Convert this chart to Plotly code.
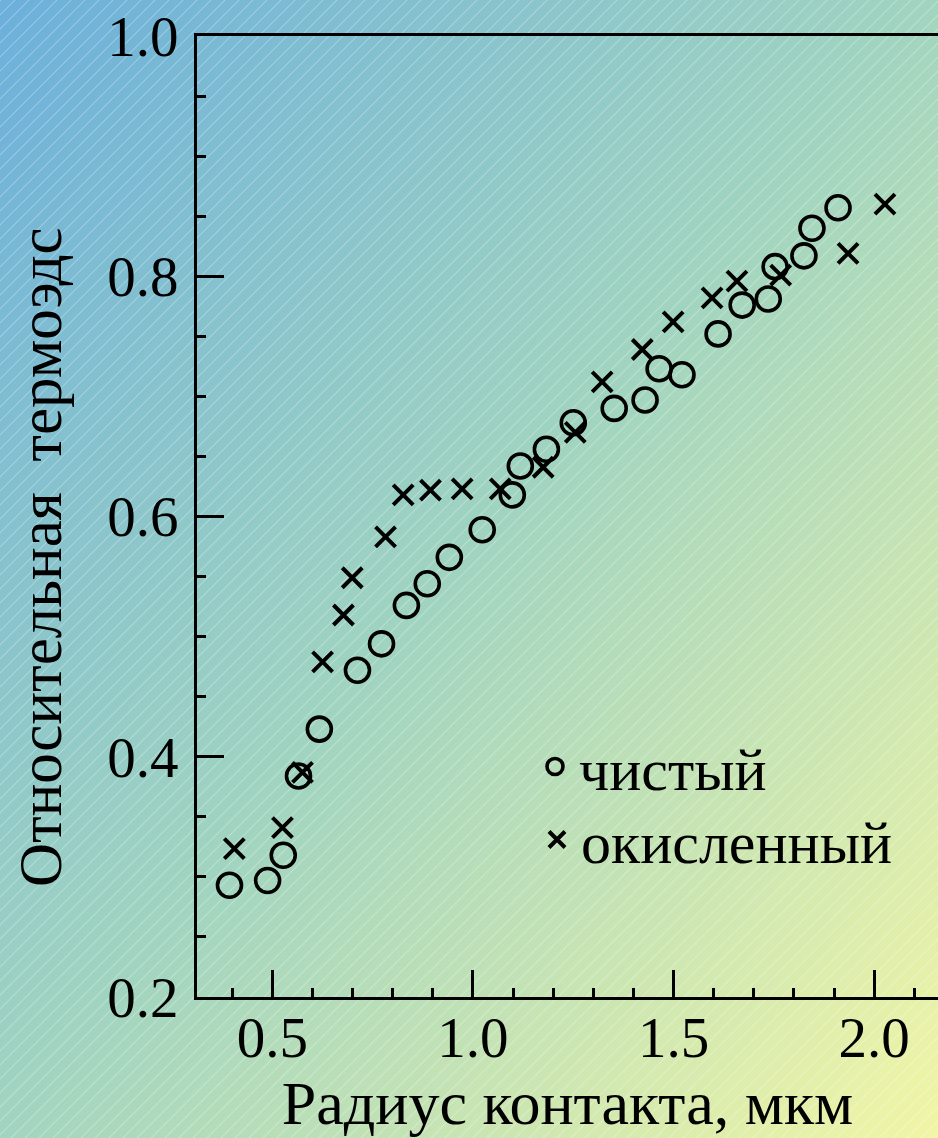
import base64, struct, zlib
import numpy as np
import plotly.graph_objects as go

# ---- data ----
clean_x = [0.393, 0.488, 0.527, 0.565, 0.617, 0.712, 0.772, 0.834, 0.886, 0.941,
           1.023, 1.098, 1.118, 1.183, 1.250, 1.352, 1.429, 1.464, 1.521, 1.611,
           1.671, 1.736, 1.753, 1.825, 1.845, 1.910]
clean_y = [0.293, 0.297, 0.318, 0.384, 0.423, 0.472, 0.494, 0.526, 0.544, 0.566,
           0.589, 0.618, 0.642, 0.656, 0.678, 0.690, 0.697, 0.723, 0.718, 0.752,
           0.776, 0.781, 0.808, 0.817, 0.840, 0.857]
oxid_x = [0.405, 0.525, 0.575, 0.625, 0.677, 0.699, 0.782, 0.826, 0.894, 0.973,
          1.068, 1.175, 1.255, 1.322, 1.422, 1.499, 1.596, 1.658, 1.767, 1.935, 2.027]
oxid_y = [0.3235, 0.341, 0.387, 0.479, 0.518, 0.549, 0.583, 0.618, 0.622, 0.623,
          0.623, 0.641, 0.670, 0.712, 0.739, 0.762, 0.782, 0.796, 0.801, 0.819, 0.860]
series_names = ["чистый", "окисленный"]
x_title = "Радиус контакта, мкм"
y_title = "Относительная\u00a0\u00a0термоэдс"

# ---- background (diagonal gradient + faint hatch) ----
W, H = 938, 1138
yy, xx = np.mgrid[0:H, 0:W].astype(np.float64)
t = (xx / W + yy / H) / 2.0
c0 = np.array([108, 176, 220], float)
c1 = np.array([162, 213, 192], float)
c2 = np.array([242, 246, 166], float)
tt = t[..., None]
img = np.where(tt < 0.5, c0 + (c1 - c0) * (tt / 0.5), c1 + (c2 - c1) * ((tt - 0.5) / 0.5))
P = 14.0
m = np.mod(xx + yy, P)
d = np.minimum(m, P - m) / np.sqrt(2)
a = 0.28 * np.clip(1 - d / 0.9, 0, 1)
img = img * (1 - a[..., None]) + 255 * a[..., None]
img = np.clip(img, 0, 255).astype(np.uint8)
flat = img.reshape(H, W * 3).astype(np.int16)
sub = flat.copy()
sub[:, 3:] = (flat[:, 3:] - flat[:, :-3]) % 256
raw = np.hstack([np.ones((H, 1), np.int16), sub]).astype(np.uint8).tobytes()

def chunk(tag, data):
    return struct.pack(">I", len(data)) + tag + data + struct.pack(">I", zlib.crc32(tag + data) & 0xffffffff)

png = b"\x89PNG\r\n\x1a\n" + chunk(b"IHDR", struct.pack(">IIBBBBB", W, H, 8, 2, 0, 0, 0)) \
    + chunk(b"IDAT", zlib.compress(raw, 9)) + chunk(b"IEND", b"")
bg_uri = "data:image/png;base64," + base64.b64encode(png).decode()

# ---- layout geometry ----
ML, MR, MT, MB = 197, 0, 36, 141
PW, PH = W - ML - MR, H - MT - MB

FONT = "Liberation Serif, Times New Roman, serif"

fig = go.Figure()
fig.add_trace(go.Scatter(
    x=clean_x, y=clean_y, mode="markers", name=series_names[0], legend="legend",
    marker=dict(symbol="circle-open", size=24, color="black", line=dict(width=3.6, color="black")),
))
fig.add_trace(go.Scatter(
    x=oxid_x, y=oxid_y, mode="markers", name=series_names[1], legend="legend2",
    marker=dict(symbol="x-thin-open", size=20, color="black", line=dict(width=4, color="black")),
))

axis_common = dict(
    showgrid=False, zeroline=False, showline=True, linecolor="black", linewidth=3,
    ticks="inside", ticklen=27, tickwidth=3, tickcolor="black",
    tickfont=dict(family=FONT, size=57, color="black"), tickformat=".1f",
)
fig.update_xaxes(
    range=[0.312, 0.5 + (W - 272) / 401.4], dtick=0.5, tick0=0, mirror=True,
    minor=dict(dtick=0.1, ticks="inside", ticklen=9, tickwidth=3, tickcolor="black", showgrid=False),
    ticklabelstandoff=-11,
    title=dict(text=x_title, font=dict(family=FONT, size=62, color="black"), standoff=0),
    **axis_common,
)
fig.update_yaxes(
    range=[0.2, 1.0], dtick=0.2, tick0=0,
    minor=dict(dtick=0.05, ticks="inside", ticklen=9, tickwidth=3, tickcolor="black", showgrid=False),
    ticklabelstandoff=4,
    **axis_common,
)

fig.add_annotation(
    text=y_title, textangle=-90, xref="paper", yref="paper",
    x=(40 - ML) / PW, y=(H - MB - 557) / PH, xanchor="center", yanchor="middle",
    showarrow=False, font=dict(family=FONT, size=61, color="black"),
)

fig.add_layout_image(
    source=bg_uri, xref="paper", yref="paper",
    x=-ML / PW, y=(H - MB) / PH, sizex=W / PW, sizey=H / PH,
    xanchor="left", yanchor="top", sizing="stretch", layer="below",
)

leg_common = dict(xanchor="left", yanchor="top", bgcolor="rgba(0,0,0,0)",
                  font=dict(family=FONT, size=60, color="black"), itemwidth=38)
fig.update_layout(
    width=W, height=H, margin=dict(l=ML, r=MR, t=MT, b=MB, pad=0, autoexpand=False),
    paper_bgcolor="#a8d6c0", plot_bgcolor="rgba(0,0,0,0)",
    showlegend=True,
    legend=dict(x=(531 - ML) / PW, y=(H - MB - 721) / PH, **leg_common),
    legend2=dict(x=(533 - ML) / PW, y=(H - MB - 794) / PH, **leg_common),
)

fig.write_html(
    "out.html",
    config={"displayModeBar": False},
    post_script="document.body.style.margin='0';document.body.style.overflow='hidden';",
)
